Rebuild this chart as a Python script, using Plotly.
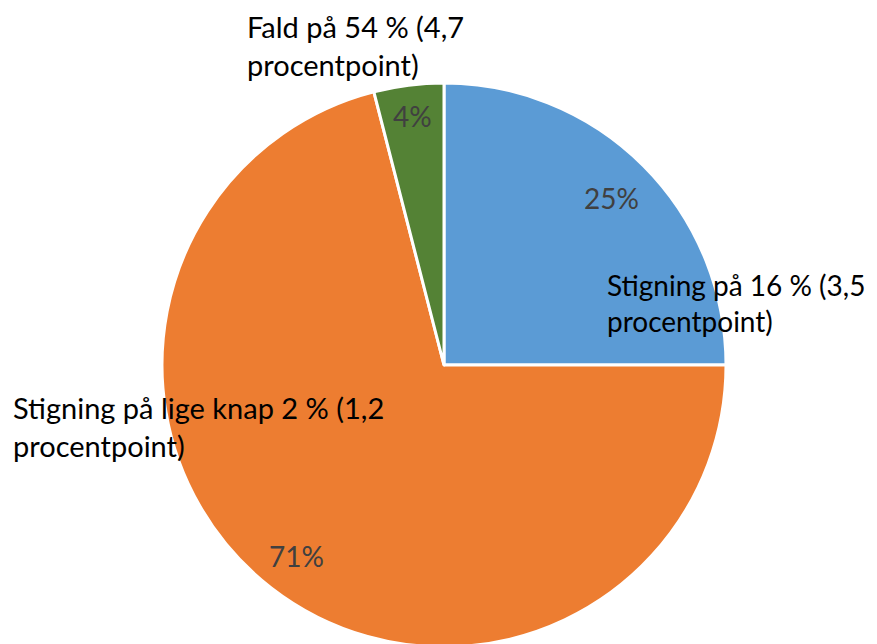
import math
import plotly.graph_objects as go

labels = ["Stigning på 16 % (3,5 procentpoint)",
          "Stigning på lige knap 2 % (1,2 procentpoint)",
          "Fald på 54 % (4,7 procentpoint)"]
values = [25, 71, 4]
colors = ["#5B9BD5", "#ED7D31", "#548235"]
pct_text = ["25%", "71%", "4%"]
label_text = ["Stigning på 16 % (3,5<br>procentpoint)",
              "Stigning på lige knap 2 % (1,2<br>procentpoint)",
              "Fald på 54 % (4,7<br>procentpoint)"]

# page is offset by the 8px body margin
OFF = 8
W, H = 869, 644
cx, cy, R = 444 - OFF, 365 - OFF, 282
FONT = "Lato"

fig = go.Figure(go.Pie(
    labels=labels, values=values, sort=False, direction="clockwise", rotation=0,
    marker=dict(colors=colors, line=dict(color="white", width=3)),
    textinfo="none", hoverinfo="label+percent", showlegend=False,
    domain=dict(x=[(cx - R) / W, (cx + R) / W], y=[1 - (cy + R) / H, 1 - (cy - R) / H]),
))

annotations = []
radfrac = [0.84, 0.855, 0.89]
total = sum(values)
cum = 0
for v, t, f in zip(values, pct_text, radfrac):
    mid = (cum + v / 2) / total * 2 * math.pi
    cum += v
    px = cx + f * R * math.sin(mid)
    py = cy - f * R * math.cos(mid)
    annotations.append(dict(x=px / W, y=1 - py / H, xref="paper", yref="paper",
                            text=t, showarrow=False,
                            font=dict(family=FONT, size=28, color="#404040"),
                            xanchor="center", yanchor="middle"))

# (left x, top of box, font size) in page pixels
label_pos = [(606, 267, 28), (12, 389, 29), (246, 8, 29)]
for txt, (lx, ty, fs) in zip(label_text, label_pos):
    annotations.append(dict(x=(lx - OFF) / W, y=1 - (ty - OFF) / H,
                            xref="paper", yref="paper",
                            text=txt, showarrow=False, align="left",
                            font=dict(family=FONT, size=fs, color="#000000"),
                            xanchor="left", yanchor="top", borderpad=0))

fig.update_layout(width=W, height=H, margin=dict(l=0, r=0, t=0, b=0),
                  paper_bgcolor="white", plot_bgcolor="white",
                  annotations=annotations)
fig.write_html("out.html")
